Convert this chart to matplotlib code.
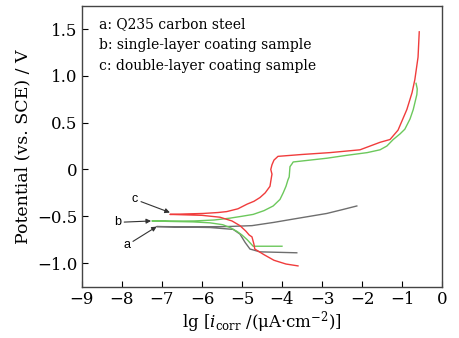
import matplotlib
matplotlib.use('Agg')
from matplotlib import pyplot as plt

plt.rcParams['font.family'] = ['DejaVu Serif']
plt.rcParams['mathtext.fontset'] = 'dejavuserif'

# a: Q235 carbon steel (grey)
a_x = [-3.63, -4.55, -4.8, -4.92, -5.05, -5.22, -5.8, -6.5, -7.13,
       -6.5, -5.9, -5.38, -4.75, -4.2, -3.72, -3.3, -2.88, -2.5, -2.13]
a_y = [-0.89, -0.88, -0.85, -0.78, -0.69, -0.64, -0.62, -0.615, -0.61,
       -0.612, -0.612, -0.61, -0.60, -0.565, -0.53, -0.50, -0.47, -0.43, -0.39]

# b: single-layer coating sample (green)
b_x = [-4.0, -4.5, -4.72, -4.87, -5.0, -5.13, -5.3, -5.48, -5.8, -6.22, -6.8, -7.25,
       -6.8, -6.2, -5.7, -5.3, -5.0, -4.72, -4.45, -4.22, -4.05, -3.97, -3.9, -3.85,
       -3.82, -3.8, -3.75, -3.72, -3.3, -2.88, -2.4, -1.87, -1.55, -1.38, -1.22,
       -1.05, -0.93, -0.8, -0.72, -0.63, -0.62, -0.65]
b_y = [-0.82, -0.82, -0.82, -0.75, -0.70, -0.66, -0.62, -0.59, -0.57, -0.56, -0.555, -0.55,
       -0.552, -0.55, -0.54, -0.52, -0.50, -0.48, -0.44, -0.39, -0.32, -0.25, -0.18, -0.11,
       -0.08, 0.03, 0.06, 0.08, 0.10, 0.12, 0.15, 0.18, 0.21, 0.25, 0.32,
       0.38, 0.43, 0.54, 0.64, 0.80, 0.86, 0.92]

# c: double-layer coating sample (red)
c_x = [-3.6, -3.9, -4.2, -4.45, -4.68, -4.7, -4.75, -4.82, -4.9, -5.05, -5.25, -5.55,
       -6.0, -6.4, -6.8,
       -6.4, -5.97, -5.6, -5.38, -5.1, -4.87, -4.7, -4.55, -4.42, -4.3, -4.27, -4.25,
       -4.28, -4.25, -4.2, -4.1, -3.5, -2.8, -2.05, -1.55, -1.3, -1.1, -0.88,
       -0.75, -0.68, -0.6, -0.57]
c_y = [-1.03, -1.01, -0.97, -0.91, -0.85, -0.80, -0.72, -0.70, -0.66, -0.60, -0.55, -0.51,
       -0.49, -0.485, -0.48,
       -0.475, -0.47, -0.46, -0.45, -0.42, -0.37, -0.34, -0.30, -0.25, -0.18, -0.10, -0.05,
       0.0, 0.05, 0.10, 0.14, 0.16, 0.18, 0.21, 0.29, 0.32, 0.42, 0.64,
       0.82, 0.96, 1.20, 1.47]

legend_lines = ['a: Q235 carbon steel',
                'b: single-layer coating sample',
                'c: double-layer coating sample']

fig = plt.figure(figsize=(4.6, 3.38), dpi=100)
ax = fig.add_axes([0.178, 0.151, 0.783, 0.831])

ax.plot(a_x, a_y, color='#6e6e6e', lw=1.0)
ax.plot(b_x, b_y, color='#6cc85c', lw=1.0)
ax.plot(c_x, c_y, color='#f03c3c', lw=1.0)

arrow = dict(arrowstyle='-|>', color='#333333', lw=0.8, mutation_scale=7,
             shrinkA=0, shrinkB=0)
ax.annotate('c', xy=(-6.8, -0.46), xytext=(-7.67, -0.32), fontsize=9,
            family='Liberation Sans', ha='center', va='center', arrowprops=arrow)
ax.annotate('b', xy=(-7.27, -0.55), xytext=(-8.1, -0.565), fontsize=9,
            family='Liberation Sans', ha='center', va='center', arrowprops=arrow)
ax.annotate('a', xy=(-7.13, -0.61), xytext=(-7.88, -0.81), fontsize=9,
            family='Liberation Sans', ha='center', va='center', arrowprops=arrow)

for i, s in enumerate(legend_lines):
    ax.text(0.047, 0.936 - i * 0.075, s, transform=ax.transAxes,
            fontsize=10, va='center', ha='left')

ax.set_xlim(-9, 0)
ax.set_ylim(-1.255, 1.745)
ax.set_xticks(range(-9, 1))
ax.set_yticks([-1.0, -0.5, 0, 0.5, 1.0, 1.5])
ax.set_yticklabels(['\u22121.0', '\u22120.5', '0', '0.5', '1.0', '1.5'])
ax.tick_params(direction='in', length=4, width=0.8, labelsize=12,
               top=False, right=False, pad=3)
for sp in ax.spines.values():
    sp.set_color('#444444')
    sp.set_linewidth(1.0)

ax.set_xlabel(r'lg [$i_{\mathrm{corr}}$ /(μA·cm$^{-2}$)]', fontsize=12, labelpad=1)
ax.set_ylabel('Potential (vs. SCE) / V', fontsize=12.5, labelpad=4)

fig.savefig('out.png', dpi=100)
